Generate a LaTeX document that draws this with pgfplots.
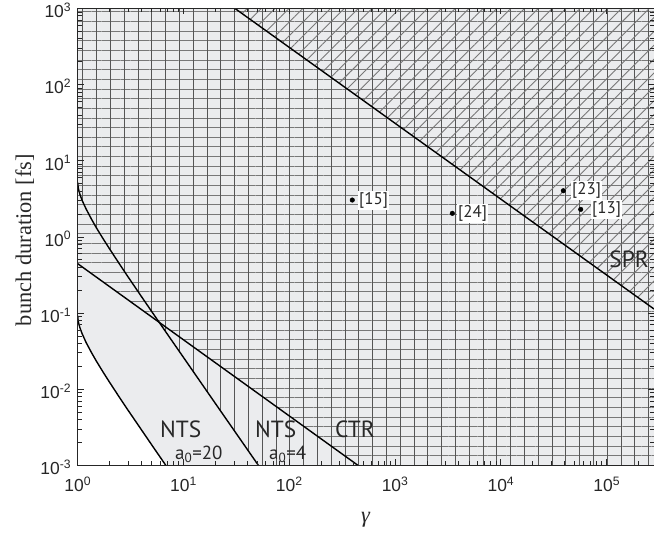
\documentclass[border=0pt]{standalone}
\usepackage{fontspec}
\setmainfont{Liberation Serif}
\newfontfamily\tickfont{Liberation Sans}
\newfontfamily\annfont{PT Sans}
\usepackage{pgfplots}
\pgfplotsset{compat=1.18}
\usetikzlibrary{patterns.meta}
\definecolor{bg}{RGB}{235,236,238}
\definecolor{hatchh}{RGB}{120,120,120}
\definecolor{hatchv}{RGB}{85,85,85}
\definecolor{hatchd}{RGB}{120,120,120}
\definecolor{axc}{RGB}{38,38,38}
\definecolor{txt}{RGB}{40,40,40}
\newcommand\tl[1]{10\textsuperscript{#1}}
\begin{document}
\begin{tikzpicture}
\begin{axis}[
 scale only axis, width=576.3bp, height=456.8bp,
 xmode=log, ymode=log, xmin=1, xmax=2.8e5, ymin=1e-3, ymax=1e3,
 axis on top,
 axis line style={axc, line width=1bp},
 every tick/.style={axc, line width=0.8bp},
 major tick length=6bp, minor tick length=4bp,
 xtick={1,10,100,1000,10000,100000},
 xticklabels={\tl{0},\tl{1},\tl{2},\tl{3},\tl{4},\tl{5}},
 minor xtick={2,3,4,5,6,7,8,9,20,30,40,50,60,70,80,90,200,300,400,500,600,700,800,900,2000,3000,4000,5000,6000,7000,8000,9000,20000,30000,40000,50000,60000,70000,80000,90000,200000},
 ytick={0.001,0.01,0.1,1,10,100,1000},
 yticklabels={\tl{-3},\tl{-2},\tl{-1},\tl{0},\tl{1},\tl{2},\tl{3}},
 minor ytick={0.002,0.003,0.004,0.005,0.006,0.007,0.008,0.009,0.02,0.03,0.04,0.05,0.06,0.07,0.08,0.09,0.2,0.3,0.4,0.5,0.6,0.7,0.8,0.9,2,3,4,5,6,7,8,9,20,30,40,50,60,70,80,90,200,300,400,500,600,700,800,900},
 ticklabel style={font=\tickfont\fontsize{17.5}{20}\selectfont, text=axc},
 xticklabel style={yshift=-8bp},
 yticklabel style={xshift=-3bp, yshift=-2bp},
 xlabel={\textit{γ}}, ylabel={bunch duration [fs]},
 label style={font=\fontsize{22.5}{26}\selectfont, text=txt},
 xlabel style={at={(axis description cs:0.5,-0.1263)}, anchor=base},
 ylabel style={at={(axis description cs:-0.081,0.493)}, anchor=base},
]
% light gray region above NTS a0=20
\addplot[draw=none, fill=bg] coordinates {
 (1,0.092) (1.01,0.0791) (1.02,0.0739) (1.05,0.0639) (1.1,0.0537) (1.2,0.0411)
 (1.35,0.0302) (1.5,0.0234) (1.75,0.0165) (2,0.01233) (2.5,0.00768) (3,0.00526)
 (4,0.00293) (5,0.00186) (6.8,0.001) (2.8e5,0.001) (2.8e5,1000) (1,1000)} -- cycle;
% horizontal lines above CTR
\addplot[draw=none, pattern={Lines[angle=0,distance=9.65bp,line width=1bp]}, pattern color=hatchh] coordinates {
 (1,0.445) (445,0.001) (2.8e5,0.001) (2.8e5,1000) (1,1000)} -- cycle;
% vertical lines above NTS a0=4
\addplot[draw=none, pattern={Lines[angle=90,distance=13.8bp,line width=1bp]}, pattern color=hatchv] coordinates {
 (1,5.2) (1.01,4.47) (1.02,4.18) (1.05,3.61) (1.1,3.03) (1.2,2.33) (1.35,1.71)
 (1.5,1.32) (1.75,0.932) (2,0.697) (2.5,0.434) (3,0.297) (4,0.165) (5,0.105)
 (7,0.0534) (10,0.0261) (20,0.0065) (51,0.001) (2.8e5,0.001) (2.8e5,1000) (1,1000)} -- cycle;
% diagonal lines above SPR
\addplot[draw=none, pattern={Lines[angle=45,distance=9.8bp,line width=0.9bp]}, pattern color=hatchd] coordinates {
 (30.7,1000) (2.8e5,0.113) (2.8e5,1000)} -- cycle;
% curves
\addplot[black, line width=1.4bp] coordinates {
 (1,0.092) (1.01,0.0791) (1.02,0.0739) (1.05,0.0639) (1.1,0.0537) (1.2,0.0411)
 (1.35,0.0302) (1.5,0.0234) (1.75,0.0165) (2,0.01233) (2.5,0.00768) (3,0.00526)
 (4,0.00293) (5,0.00186) (6.8,0.001)};
\addplot[black, line width=1.4bp] coordinates {
 (1,5.2) (1.01,4.47) (1.02,4.18) (1.05,3.61) (1.1,3.03) (1.2,2.33) (1.35,1.71)
 (1.5,1.32) (1.75,0.932) (2,0.697) (2.5,0.434) (3,0.297) (4,0.165) (5,0.105)
 (7,0.0534) (10,0.0261) (20,0.0065) (51,0.001)};
\addplot[black, line width=1.4bp] coordinates {(1,0.445) (445,0.001)};
\addplot[black, line width=1.4bp] coordinates {(30.7,1000) (2.8e5,0.113)};
% data points
\addplot[only marks, mark=*, mark size=2.3bp, black] coordinates {
 (394,3.05) (3475,2.04) (38900,4.04) (56800,2.30)};
\begin{scope}[every node/.style={anchor=west, fill=white, inner sep=1.5bp, text=txt, font=\annfont\fontsize{17}{20}\selectfont}]
\node[xshift=5.2bp] at (axis cs:394,3.05) {[15]};
\node[xshift=4.2bp] at (axis cs:3475,2.04) {[24]};
\node[xshift=7.2bp] at (axis cs:38900,4.04) {[23]};
\node[xshift=9.8bp] at (axis cs:56800,2.30) {[13]};
\end{scope}
\begin{scope}[every node/.style={anchor=base west, inner sep=0pt, text=txt}]
\node[font=\annfont\fontsize{23.5}{26}\selectfont] at (rel axis cs:0.1428,0.0598) {NTS};
\node[font=\annfont\fontsize{19}{22}\selectfont] at (rel axis cs:0.1688,0.0138) {a\textsubscript{0}=20};
\node[font=\annfont\fontsize{23.5}{26}\selectfont] at (rel axis cs:0.3077,0.0598) {NTS};
\node[font=\annfont\fontsize{19}{22}\selectfont] at (rel axis cs:0.3320,0.0138) {a\textsubscript{0}=4};
\node[font=\annfont\fontsize{23.5}{26}\selectfont] at (rel axis cs:0.4465,0.0598) {CTR};
\node[font=\annfont\fontsize{23.5}{26}\selectfont, anchor=base east] at (rel axis cs:0.9913,0.4335) {SPR};
\end{scope}
\end{axis}
\pgfresetboundingbox
\path[use as bounding box] (-77.7bp,-67.7bp) rectangle (576.3bp,465.3bp);
\end{tikzpicture}
\end{document}
